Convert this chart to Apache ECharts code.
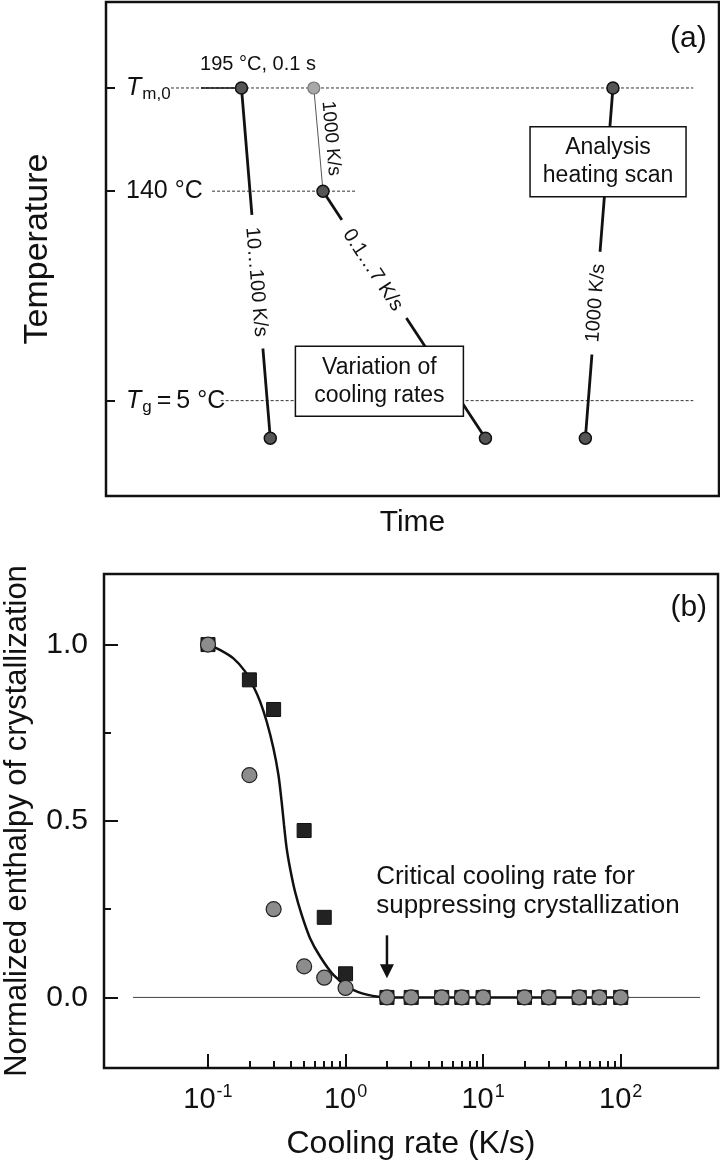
<!DOCTYPE html>
<html>
<head>
<meta charset="utf-8">
<script src="https://cdn.jsdelivr.net/npm/echarts@6/dist/echarts.min.js"></script>
<style>
html,body{margin:0;padding:0;background:#fff;}
#chart{width:720px;height:1160px;}
</style>
</head>
<body>
<div id="chart"></div>
<script>
var FONT = '"Liberation Sans", Arial, sans-serif';
var INK = '#111';

// ---- panel (a): schematic temperature program (time / temperature in schematic units)
var levelTemps = [100, 67, 0];            // T_m,0 / 140 °C / T_g
var levelLabels = ['{i|T}{s|m,0}', '140 °C', '{i|T}{s|g}{n|\u2009=\u20095 °C}'];
var dashedRefs = [
  [[10.6, 100], [95.8, 100]],
  [[17.3, 67], [40.8, 67]],
  [[18.7, 0], [95.8, 0]]
];
var holdSeg = [[15.5, 100], [22.1, 100]];
var coolFast = [[22.1, 100], [26.8, -12]];   // 10...100 K/s
var quench = [[33.9, 100], [35.4, 67]];      // 1000 K/s down to 140 °C
var coolSlow = [[35.4, 67], [61.9, -12]];    // 0.1...7 K/s
var heatScan = [[78.2, -12], [82.7, 100]];   // analysis heating scan
var darkPoints = [[22.1, 100], [35.4, 67], [82.7, 100], [26.8, -12], [61.9, -12], [78.2, -12]];
var lightPoints = [[33.9, 100]];

var notesA = [
  {text: '195 °C, 0.1 s', at: [24.8, 107.4], size: 20},
  {text: '10…100 K/s', at: [24.5, 38], along: coolFast, gap: true, size: 20},
  {text: '1000 K/s', at: [36.7, 83.9], along: quench, size: 19},
  {text: '0.1…7 K/s', at: [43.5, 41.8], along: coolSlow, gap: true, size: 20},
  {text: '1000 K/s', at: [79.9, 31.2], along: heatScan, gap: true, size: 20},
  {text: '(a)', at: [98, 115.8], align: 'right', size: 30}
];
var boxesA = [
  {text: 'Analysis\nheating scan', at: [81.9, 76.4], w: 156},
  {text: 'Variation of\ncooling rates', at: [44.6, 6.2], w: 168}
];

// ---- panel (b): normalized enthalpy vs cooling rate
var rates = [0.1, 0.2, 0.3, 0.5, 0.7, 1, 2, 3, 5, 7, 10, 20, 30, 50, 70, 100];
var circleVals = [1.0, 0.63, 0.25, 0.088, 0.056, 0.027, 0, 0, 0, 0, 0, 0, 0, 0, 0, 0];
var squareVals = [1.0, 0.90, 0.816, 0.473, 0.227, 0.067, 0, 0, 0, 0, 0, 0, 0, 0, 0, 0];
var fitRates = [0.1, 0.122, 0.153, 0.186, 0.214, 0.239, 0.267, 0.299, 0.325, 0.343, 0.357, 0.373, 0.395,
  0.429, 0.48, 0.552, 0.653, 0.816, 1.08, 1.43, 2.06, 100];
var fitVals = [1.0, 0.985, 0.961, 0.924, 0.881, 0.839, 0.782, 0.706, 0.631, 0.555, 0.489, 0.423, 0.366,
  0.3, 0.234, 0.168, 0.116, 0.064, 0.026, 0.008, 0, 0];
var zeroLine = [[0.0285, 0], [378, 0]];
var arrowAt = [[2, 0.176], [2, 0.054]];
var xMajor = [0.1, 1, 10, 100];
var xMinor = [0.2, 0.3, 0.4, 0.5, 0.6, 0.7, 0.8, 0.9, 2, 3, 4, 5, 6, 7, 8, 9, 20, 30, 40, 50, 60, 70, 80, 90];
var yMajor = [0, 0.5, 1.0];
var yMinor = [0.25, 0.75];
var notesB = [
  {text: 'Critical cooling rate for\nsuppressing crystallization', at: [1.67, 0.302], align: 'left', size: 26, lh: 29},
  {text: '(b)', at: [424.6, 1.105], align: 'right', size: 30}
];

function pair(xs, ys) {
  return xs.map(function (x, i) { return [x, ys[i]]; });
}

function textRender(list) {
  return function (params, api) {
    var n = list[params.dataIndex];
    var p = api.coord([api.value(0), api.value(1)]);
    var rot = 0;
    if (n.along) {
      var a = api.coord(n.along[0]), b = api.coord(n.along[1]);
      rot = Math.atan2(a[1] - b[1], b[0] - a[0]);
    }
    return {
      type: 'text', x: p[0], y: p[1], rotation: rot,
      style: {
        text: n.text, fontFamily: FONT, fontSize: n.size, fill: INK,
        lineHeight: n.lh,
        align: n.align || 'center', verticalAlign: 'middle',
        backgroundColor: n.gap ? '#fff' : 'transparent',
        padding: n.gap ? [3, 12] : 0
      }
    };
  };
}

function boxRender(params, api) {
  var b = boxesA[params.dataIndex];
  var p = api.coord([api.value(0), api.value(1)]);
  return {
    type: 'group',
    children: [
      {type: 'rect', shape: {x: p[0] - b.w / 2, y: p[1] - 35, width: b.w, height: 70},
        style: {fill: '#fff', stroke: INK, lineWidth: 1.5}},
      {type: 'text', x: p[0], y: p[1],
        style: {text: b.text, fontFamily: FONT, fontSize: 23, lineHeight: 28, fill: INK,
          align: 'center', verticalAlign: 'middle'}}
    ]
  };
}

function arrowRender(params, api) {
  var a = api.coord(arrowAt[0]), b = api.coord(arrowAt[1]);
  var head = 14, half = 7;
  return {
    type: 'group',
    children: [
      {type: 'line', shape: {x1: a[0], y1: a[1], x2: b[0], y2: b[1] - head + 2},
        style: {stroke: INK, lineWidth: 2.5}},
      {type: 'polygon', shape: {points: [[b[0] - half, b[1] - head], [b[0] + half, b[1] - head], [b[0], b[1]]]},
        style: {fill: INK}}
    ]
  };
}

var tickStyle = {color: INK, width: 2};
function nameStyle(size) {
  return {fontFamily: FONT, fontSize: size, color: INK};
}

var series = [];
dashedRefs.forEach(function (d) {
  series.push({type: 'line', xAxisIndex: 0, yAxisIndex: 0, data: d, symbol: 'none', silent: true, z: 1,
    lineStyle: {color: '#333', width: 1, type: [3, 2]}});
});
series.push({type: 'line', xAxisIndex: 0, yAxisIndex: 0, data: holdSeg, symbol: 'none', z: 2,
  lineStyle: {color: INK, width: 1.5}});
[coolFast, coolSlow, heatScan].forEach(function (d) {
  series.push({type: 'line', xAxisIndex: 0, yAxisIndex: 0, data: d, symbol: 'none', z: 2,
    lineStyle: {color: INK, width: 2.8}});
});
series.push({type: 'line', xAxisIndex: 0, yAxisIndex: 0, data: quench, symbol: 'none', z: 2,
  lineStyle: {color: '#555', width: 1}});
series.push({type: 'custom', xAxisIndex: 0, yAxisIndex: 0, z: 5,
  data: notesA.map(function (n) { return n.at; }), renderItem: textRender(notesA)});
series.push({type: 'custom', xAxisIndex: 0, yAxisIndex: 0, z: 6,
  data: boxesA.map(function (b) { return b.at; }), renderItem: boxRender});
series.push({type: 'scatter', xAxisIndex: 0, yAxisIndex: 0, data: darkPoints, symbolSize: 12, z: 10,
  itemStyle: {color: '#555', borderColor: INK, borderWidth: 1.5, opacity: 1}});
series.push({type: 'scatter', xAxisIndex: 0, yAxisIndex: 0, data: lightPoints, symbolSize: 12, z: 10,
  itemStyle: {color: '#a8a8a8', borderColor: '#777', borderWidth: 1.2, opacity: 1}});

// panel (b)
series.push({type: 'line', xAxisIndex: 1, yAxisIndex: 1, data: zeroLine, symbol: 'none', z: 1,
  lineStyle: {color: '#444', width: 1}});
series.push({type: 'line', xAxisIndex: 1, yAxisIndex: 1, data: pair(fitRates, fitVals), symbol: 'none', z: 2,
  smooth: 0.3, lineStyle: {color: INK, width: 2.5}});
series.push({type: 'scatter', xAxisIndex: 1, yAxisIndex: 1, data: pair(rates, squareVals), symbol: 'rect',
  symbolSize: 14, z: 3, itemStyle: {color: '#222', borderColor: INK, borderWidth: 1, opacity: 1}});
series.push({type: 'scatter', xAxisIndex: 1, yAxisIndex: 1, data: pair(rates, circleVals), symbol: 'circle',
  symbolSize: 15, z: 4, itemStyle: {color: '#8c8c8c', borderColor: '#222', borderWidth: 1.2, opacity: 1}});
series.push({type: 'custom', xAxisIndex: 1, yAxisIndex: 1, z: 5, data: [arrowAt[0]], renderItem: arrowRender});
series.push({type: 'custom', xAxisIndex: 1, yAxisIndex: 1, z: 5,
  data: notesB.map(function (n) { return n.at; }), renderItem: textRender(notesB)});

var noLine = {show: false, onZero: false};

var option = {
  animation: false,
  backgroundColor: '#fff',
  textStyle: {fontFamily: FONT},
  grid: [
    {left: 106, top: 2, width: 613, height: 494, show: true, borderColor: INK, borderWidth: 2.5,
      backgroundColor: 'transparent', outerBoundsMode: 'none'},
    {left: 104, top: 574, width: 614, height: 494, show: true, borderColor: INK, borderWidth: 2.5,
      backgroundColor: 'transparent', outerBoundsMode: 'none'}
  ],
  xAxis: [
    {gridIndex: 0, type: 'value', position: 'bottom', min: 0, max: 100, axisLine: noLine, axisTick: {show: false},
      axisLabel: {show: false}, splitLine: {show: false},
      name: 'Time', nameLocation: 'middle', nameGap: 12, nameMoveOverlap: false,
      nameTextStyle: nameStyle(30)},
    {gridIndex: 1, type: 'log', position: 'bottom', min: 0.01754, max: 510, axisLine: noLine, splitLine: {show: false},
      axisTick: {inside: true, length: 14, lineStyle: tickStyle, customValues: xMajor},
      axisLabel: {customValues: xMajor, margin: 15, color: INK, fontFamily: FONT, fontSize: 29,
        formatter: function (v) { return '{b|10}{sup|' + Math.round(Math.log10(v)) + '}'; },
        rich: {
          b: {fontFamily: FONT, fontSize: 29, color: INK},
          sup: {fontFamily: FONT, fontSize: 18, color: INK, padding: [0, 0, 16, 1]}
        }},
      name: 'Cooling rate (K/s)', nameLocation: 'middle', nameGap: 60, nameMoveOverlap: false,
      nameTextStyle: nameStyle(32)},
    {gridIndex: 1, type: 'log', position: 'bottom', min: 0.01754, max: 510, axisLine: noLine, splitLine: {show: false},
      axisLabel: {show: false},
      axisTick: {inside: true, length: 7, lineStyle: tickStyle, customValues: xMinor}}
  ],
  yAxis: [
    {gridIndex: 0, type: 'value', position: 'left', min: -30.5, max: 127.5, axisLine: noLine, splitLine: {show: false},
      axisTick: {inside: true, length: 9, lineStyle: tickStyle, customValues: levelTemps},
      axisLabel: {inside: true, margin: 20, customValues: levelTemps, color: INK, fontFamily: FONT, fontSize: 25,
        formatter: function (v) { return levelLabels[levelTemps.indexOf(v)]; },
        rich: {
          i: {fontFamily: FONT, fontStyle: 'italic', fontSize: 25, color: INK},
          s: {fontFamily: FONT, fontSize: 17, color: INK, padding: [13, 0, 0, 1]},
          n: {fontFamily: FONT, fontSize: 25, color: INK}
        }},
      name: 'Temperature', nameLocation: 'middle', nameRotate: 90, nameGap: 51, nameMoveOverlap: false,
      nameTextStyle: nameStyle(34)},
    {gridIndex: 1, type: 'value', position: 'left', min: -0.2, max: 1.2, axisLine: noLine, splitLine: {show: false},
      axisTick: {inside: true, length: 14, lineStyle: tickStyle, customValues: yMajor},
      axisLabel: {customValues: yMajor, margin: 16, color: INK, fontFamily: FONT, fontSize: 30,
        formatter: function (v) { return v.toFixed(1); }},
      name: 'Normalized enthalpy of crystallization', nameLocation: 'middle', nameRotate: 90, nameGap: 71,
      nameMoveOverlap: false, nameTextStyle: nameStyle(31)},
    {gridIndex: 1, type: 'value', position: 'left', min: -0.2, max: 1.2, axisLine: noLine, splitLine: {show: false},
      axisLabel: {show: false},
      axisTick: {inside: true, length: 7, lineStyle: tickStyle, customValues: yMinor}}
  ],
  series: series
};

var chart = echarts.init(document.getElementById('chart'));
chart.setOption(option);
</script>
</body>
</html>
